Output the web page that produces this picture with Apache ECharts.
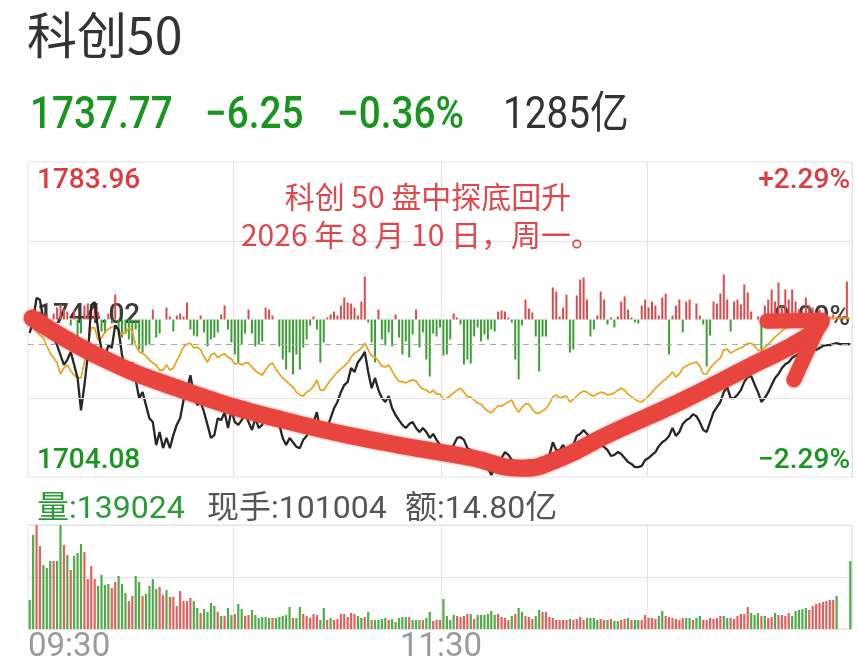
<!DOCTYPE html>
<html><head><meta charset="utf-8">
<script src="https://cdn.jsdelivr.net/npm/echarts@6/dist/echarts.min.js"></script>
<style>html,body{margin:0;padding:0;background:#fff}#c{width:858px;height:665px}</style>
</head><body><div id="c"></div>
<script>
// ---------- data ----------
const PREV_CLOSE = 1744.02, AXIS_MAX = 1783.96, AXIS_MIN = 1704.08, LAST = 1737.77;
const titleText = '科创50';
const quote = ['1737.77', '−6.25', '−0.36%', '1285亿'];
const priceLabels = ['1783.96', '1744.02', '1704.08'];
const pctLabels = ['+2.29%', '0.00%', '−2.29%'];
const volInfo = ['量:139024', '现手:101004', '额:14.80亿'];
const timeLabels = ['09:30', '11:30'];
const noteLines = ['科创 50 盘中探底回升', '2026 年 8 月 10 日，周一。'];

const price = [
1740.6,1743.9,1749.5,1749.0,1743.9,1740.9,1740.1,1739.3,1737.5,1735.0,
1732.5,1733.8,1735.8,1732.5,1729.2,1721.0,1727.4,1735.0,1747.7,1748.4,
1741.4,1736.3,1734.3,1737.5,1736.8,1742.6,1741.4,1735.0,1731.7,1729.9,
1733.2,1728.7,1724.1,1725.6,1722.3,1719.0,1718.0,1712.2,1715.5,1711.4,
1714.0,1711.4,1714.7,1717.3,1719.0,1723.6,1726.1,1729.9,1724.9,1722.3,
1723.1,1720.5,1717.3,1714.0,1714.7,1719.0,1718.5,1720.5,1716.5,1721.0,
1718.0,1717.3,1718.5,1720.5,1718.0,1716.0,1719.0,1716.5,1717.3,1720.3,
1719.8,1720.5,1719.0,1717.3,1714.0,1712.2,1714.0,1712.9,1711.7,1711.4,
1713.5,1714.5,1716.0,1718.0,1720.5,1715.5,1714.5,1716.5,1719.0,1721.5,
1723.1,1725.6,1727.4,1728.2,1731.7,1730.7,1733.2,1734.3,1735.8,1730.7,
1726.6,1729.2,1726.1,1724.1,1723.1,1724.6,1721.5,1719.8,1718.5,1717.3,
1716.5,1717.5,1718.0,1716.5,1715.5,1716.5,1715.5,1714.0,1715.0,1713.5,
1712.2,1710.4,1709.7,1710.4,1712.2,1714.0,1714.2,1713.5,1711.4,1710.9,
1709.7,1708.4,1707.9,1707.6,1706.4,1704.6,1706.4,1707.9,1708.9,1710.4,
1709.7,1708.4,1707.9,1705.9,1706.9,1707.9,1708.4,1706.9,1705.3,1704.8,
1706.4,1707.6,1709.7,1712.9,1710.9,1710.9,1712.2,1710.4,1710.2,1712.2,
1714.5,1715.0,1716.0,1715.0,1714.0,1712.4,1712.9,1712.2,1711.7,1710.9,
1709.4,1709.7,1710.4,1709.9,1708.9,1707.9,1707.4,1706.6,1706.6,1706.9,
1708.4,1708.9,1709.7,1710.4,1711.9,1712.9,1713.5,1714.5,1716.5,1714.5,
1715.5,1717.5,1718.5,1719.0,1720.0,1719.5,1718.0,1716.0,1715.5,1718.0,
1720.5,1721.8,1723.1,1725.6,1726.9,1724.1,1724.1,1724.9,1726.1,1728.2,
1729.4,1729.7,1727.6,1725.6,1723.1,1724.1,1725.6,1727.4,1729.2,1730.2,
1731.7,1732.7,1733.2,1734.3,1734.8,1735.5,1736.8,1735.8,1736.3,1736.3,
1736.3,1736.8,1737.3,1737.5,1737.5,1737.8,1738.0,1737.8,1737.8,1737.8,
1737.77];

const avgLine = [
1743.4,1741.9,1740.9,1740.1,1739.3,1737.3,1735.5,1734.3,1733.0,1730.2,
1731.7,1732.5,1731.0,1729.9,1729.2,1729.2,1733.2,1737.3,1741.9,1741.9,
1738.8,1739.3,1740.9,1741.6,1742.1,1742.4,1741.1,1740.3,1740.6,1741.9,
1741.1,1737.5,1735.8,1735.5,1734.8,1733.8,1733.0,1732.5,1731.2,1731.2,
1732.5,1731.2,1731.7,1733.5,1735.3,1737.0,1737.8,1738.0,1736.8,1737.0,
1736.3,1734.5,1733.2,1735.0,1735.5,1734.3,1735.0,1735.3,1734.5,1734.0,
1732.7,1733.0,1732.5,1733.0,1733.0,1732.0,1731.0,1730.4,1729.9,1731.2,
1732.5,1733.0,1731.5,1730.2,1729.2,1728.4,1727.6,1726.9,1725.6,1724.9,
1724.6,1725.6,1726.1,1727.1,1728.7,1726.1,1726.1,1727.4,1728.7,1729.7,
1730.7,1731.5,1732.2,1733.0,1734.5,1735.5,1736.0,1736.8,1738.0,1736.3,
1734.8,1734.5,1733.5,1732.2,1732.0,1732.5,1731.0,1729.4,1728.4,1728.2,
1727.9,1728.4,1728.7,1728.4,1727.1,1726.4,1726.1,1725.4,1726.1,1725.1,
1725.1,1723.8,1724.1,1724.6,1725.4,1726.1,1726.6,1725.6,1724.4,1724.4,
1723.6,1722.8,1722.6,1721.5,1720.8,1720.3,1721.3,1722.1,1722.1,1722.6,
1723.1,1723.6,1721.8,1720.5,1721.8,1722.6,1722.6,1721.3,1720.3,1720.3,
1720.8,1721.5,1722.6,1724.4,1724.9,1724.1,1724.4,1724.6,1723.1,1723.8,
1724.6,1725.4,1725.9,1725.6,1724.9,1724.6,1725.1,1725.6,1725.4,1724.9,
1725.1,1725.4,1726.1,1726.6,1726.1,1725.1,1724.4,1723.8,1723.3,1723.1,
1723.8,1724.6,1725.6,1726.6,1727.4,1728.2,1728.9,1729.7,1730.7,1729.4,
1730.2,1731.7,1732.2,1732.7,1733.0,1733.2,1732.2,1730.2,1730.2,1731.7,
1732.7,1733.5,1734.3,1736.3,1736.5,1735.5,1736.0,1736.5,1736.8,1737.3,
1738.0,1738.0,1737.3,1736.3,1736.0,1737.0,1737.8,1738.6,1739.6,1740.3,
1741.1,1741.9,1742.1,1742.4,1742.9,1743.1,1743.4,1743.6,1743.9,1744.1,
1744.4,1744.4,1744.4,1744.6,1744.6,1744.4,1744.4,1744.4,1744.4,1744.4,
1744.4];

// buy/sell strength bars around the previous-close line (relative units)
const strength = [
4,6,-5,8,-8,5,-10,6,12,15,
10,8,-6,10,-18,-14,14,16,12,10,
8,-12,-14,6,-4,25,-16,-18,-14,-20,
-26,-10,-30,-33,-26,-25,10,-18,-14,0,
12,3,-12,4,6,3,17,-10,-16,-17,
4,-13,-27,-20,-18,-13,5,14,-10,-23,
-35,-43,-25,-14,10,-14,-27,-25,-22,12,
10,4,0,-27,-40,-50,-33,-55,-35,-50,
-28,-20,-6,3,-10,-43,-23,2,5,8,
4,14,22,17,16,12,4,18,43,-3,
-23,-43,10,-20,-26,-13,-27,5,-18,-35,
-22,-38,-15,10,-28,-13,-40,-57,-14,-17,
-8,-36,-35,-20,6,2,-5,-45,-40,-44,
-17,-8,-22,-15,-20,-10,-12,8,9,8,
2,-3,-40,-60,-6,20,11,7,-17,-52,
-17,-17,0,32,28,3,12,25,-33,-30,
24,40,42,20,-17,-10,4,28,20,-5,
2,-8,3,18,23,10,2,-3,-4,14,
20,12,18,14,4,22,26,-35,4,14,
20,-13,18,20,0,16,4,-5,-47,-16,
18,16,26,45,20,-12,18,20,15,35,
27,8,0,3,-30,14,20,30,18,37,
14,30,20,30,18,10,8,22,14,12,
6,10,4,6,2,5,3,4,2,38,
0];

// volume (relative units)
const volume = [
29,94,104,83,64,61,68,68,68,104,
84,74,59,73,76,85,77,50,63,50,
43,54,44,45,41,47,53,45,36,28,
33,53,47,33,35,43,50,40,42,34,
39,32,32,23,38,28,28,31,28,21,
16,20,17,26,23,17,13,13,21,14,
15,25,20,13,14,19,14,11,12,12,
11,11,11,12,13,14,22,11,11,22,
15,13,11,15,14,9,21,9,11,9,
10,15,15,12,16,15,13,11,12,17,
9,9,9,10,11,9,10,7,11,12,
12,12,9,9,9,9,11,17,8,9,
9,30,13,9,14,13,12,13,15,15,
10,14,14,14,15,18,14,15,12,11,
9,13,15,21,17,13,12,10,13,19,
17,17,12,11,9,9,9,9,10,9,
10,12,9,11,11,11,9,10,9,9,
10,8,8,9,10,11,9,9,9,9,
14,11,11,10,13,18,13,12,11,10,
9,11,11,11,9,11,13,9,9,11,
10,11,13,13,11,11,10,13,15,15,
22,16,14,16,13,13,11,12,16,14,
14,13,16,13,18,19,20,21,19,23,
25,26,27,28,29,29,33,0,0,0,
68];
const volDir = [
'GGRRGGGRGG','RGRGGGRRRR','GGGGRRGGGR','RGGRGGGGRR','GRRRRRRRGG','RGGGGRGRGG',
'RGGRRGGGGG','GRGGGGGRGG','RRRRRGGRGR','RRRRRRGGRG','RGGGGRGGGG','GRGGGRGGRR',
'RGGGGRRRRG','RGGGGGGRRR','RGRGGRRRGG','RRRRRRRRGR','RRRGGGGRRG','RGGRRGRGGR',
'RRRRGGRRRR','RRGGRGGRRR','RRRGGRRRRR','RGGGRGRRGR','RRRGGGGGRR','RRRRRRGGGG','G'
].join('').split('');

// hand-drawn annotation arrow (minute index, index level)
const arrowShaft = [[0.7,1744.4],[20.6,1734.5],[44.9,1726.1],[74.2,1718.5],[103.5,1712.9],
[129.5,1708.9],[143.6,1706.3],[155.3,1708.9],[168.8,1714.7],[190.1,1723.1],[209.7,1731.7],
[227.3,1739.6],[231.5,1743.5]];
const arrowHead = [[215.6,1743.6],[231.5,1743.8],[223.5,1728.7]];

// ---------- chart ----------
const pad = n => (n < 10 ? '0' : '') + n;
const times = [];
for (let m = 9*60+30; m <= 11*60+30; m++) times.push(pad(Math.floor(m/60)) + ':' + pad(m%60));
for (let m = 13*60+1; m <= 15*60; m++) times.push(pad(Math.floor(m/60)) + ':' + pad(m%60));

const RED = '#dc3b40', GREEN = '#17951f';
const GRID_LINE = '#e4e4e4';
const halfStep = (AXIS_MAX - PREV_CLOSE) / 2;
const splitIdx = [60, 121, 181];

const chart = echarts.init(document.getElementById('c'), null, {renderer: 'canvas'});

function txt(x, y, text, size, color, opts) {
  opts = opts || {};
  return {
    type: 'text', x: x, y: y, z: opts.z == null ? 0 : opts.z,
    scaleX: opts.scaleX || 1, scaleY: 1, silent: true,
    style: {
      text: text, fill: color, fontSize: size,
      fontFamily: opts.family || "Roboto, 'Noto Sans CJK SC', sans-serif",
      fontWeight: opts.weight || 400,
      align: opts.align || 'left', verticalAlign: 'middle',
      textAlign: opts.align || 'left', textVerticalAlign: 'middle'
    }
  };
}

const cjk = "'Noto Sans CJK SC', sans-serif";
const graphics = [
  txt(27, 35, titleText, 50, '#333', {family: cjk}),
  txt(30, 117, quote[0], 44, GREEN, {weight: 500, scaleX: 0.88}),
  txt(205, 117, quote[1], 44, GREEN, {weight: 500, scaleX: 0.88}),
  txt(337, 117, quote[2], 44, GREEN, {weight: 500, scaleX: 0.88}),
  txt(503, 117, quote[3], 44, '#333', {weight: 400, scaleX: 0.88}),
  txt(37, 181, priceLabels[0], 28, RED, {weight: 500}),
  txt(37, 316, priceLabels[1], 28, '#3a3a3a', {weight: 500}),
  txt(37, 461, priceLabels[2], 28, GREEN, {weight: 500}),
  txt(850, 181, pctLabels[0], 28, RED, {weight: 500, align: 'right'}),
  txt(850, 318, pctLabels[1], 28, '#3a3a3a', {weight: 500, align: 'right'}),
  txt(850, 461, pctLabels[2], 28, GREEN, {weight: 500, align: 'right'}),
  txt(428, 197, noteLines[0], 30, '#e0474c', {family: cjk, align: 'center', z: 20}),
  txt(421, 235, noteLines[1], 30, '#e0474c', {family: cjk, align: 'center', z: 20}),
  txt(37, 510, volInfo[0], 32, '#2b9a34'),
  txt(207, 510, volInfo[1], 32, '#555'),
  txt(405, 510, volInfo[2], 32, '#555'),
  txt(28, 648, timeLabels[0], 33, '#9a9a9a'),
  txt(441, 648, timeLabels[1], 33, '#9a9a9a', {align: 'center'})
];

const catAxis = (grid) => ({
  type: 'category', gridIndex: grid, data: times, boundaryGap: true,
  axisLine: {show: false}, axisTick: {show: false}, axisLabel: {show: false},
  splitLine: {show: true, interval: (idx) => splitIdx.indexOf(idx) >= 0,
              lineStyle: {color: GRID_LINE, width: 1}}
});

const arrowStyle = (w) => ({color: '#e8453f', width: w, cap: 'round', join: 'round',
                             shadowBlur: 3, shadowColor: 'rgba(232,69,63,0.6)'});

chart.setOption({
  animation: false,
  backgroundColor: '#fff',
  graphic: graphics,
  grid: [
    {left: 28, right: 6, top: 162, height: 315, show: true, borderColor: GRID_LINE, borderWidth: 1},
    {left: 28, right: 6, top: 525, height: 104, show: true, borderColor: GRID_LINE, borderWidth: 1}
  ],
  xAxis: [
    catAxis(0), catAxis(1),
    {type: 'value', gridIndex: 0, min: -0.5, max: times.length - 0.5, show: false}
  ],
  yAxis: [
    {type: 'value', gridIndex: 0, min: AXIS_MIN, max: AXIS_MAX, show: false, splitLine: {show: false}},
    {type: 'value', gridIndex: 0, min: -157.5, max: 157.5, show: false, splitLine: {show: false}},
    {type: 'value', gridIndex: 1, min: 0, max: 104, interval: 52,
     axisLine: {show: false}, axisTick: {show: false}, axisLabel: {show: false},
     splitLine: {show: true, lineStyle: {color: GRID_LINE}}}
  ],
  series: [
    {
      type: 'bar', xAxisIndex: 0, yAxisIndex: 1, barWidth: 2, z: 1,
      data: strength.map(v => ({value: v, itemStyle: {color: v >= 0 ? '#dd4a4c' : '#3c9f35'}}))
    },
    {
      type: 'line', xAxisIndex: 0, yAxisIndex: 0, data: avgLine, showSymbol: false, z: 3,
      lineStyle: {color: '#e8a31d', width: 1.7}, itemStyle: {color: '#e8a31d'}
    },
    {
      type: 'line', xAxisIndex: 0, yAxisIndex: 0, data: price, showSymbol: false, z: 4,
      lineStyle: {color: '#262626', width: 2.3}, itemStyle: {color: '#262626'},
      markLine: {
        silent: true, symbol: ['none', 'none'], label: {show: false},
        data: [
          {yAxis: PREV_CLOSE + halfStep, lineStyle: {color: GRID_LINE, type: 'solid', width: 1}},
          {yAxis: PREV_CLOSE - halfStep, lineStyle: {color: GRID_LINE, type: 'solid', width: 1}},
          {yAxis: LAST, lineStyle: {color: '#a9a9a9', type: [6, 5], width: 1.2}}
        ]
      }
    },
    {
      type: 'bar', xAxisIndex: 1, yAxisIndex: 2, barWidth: 2.2,
      data: volume.map((v, i) => ({value: v, itemStyle: {color: volDir[i] === 'R' ? '#e4605f' : '#4fac48'}}))
    },
    {
      type: 'line', xAxisIndex: 2, yAxisIndex: 0, data: arrowShaft, showSymbol: false, smooth: 0.5, z: 10,
      lineStyle: arrowStyle(17)
    },
    {
      type: 'line', xAxisIndex: 2, yAxisIndex: 0, data: arrowHead, showSymbol: false, z: 10,
      lineStyle: arrowStyle(15)
    }
  ]
});
</script></body></html>
